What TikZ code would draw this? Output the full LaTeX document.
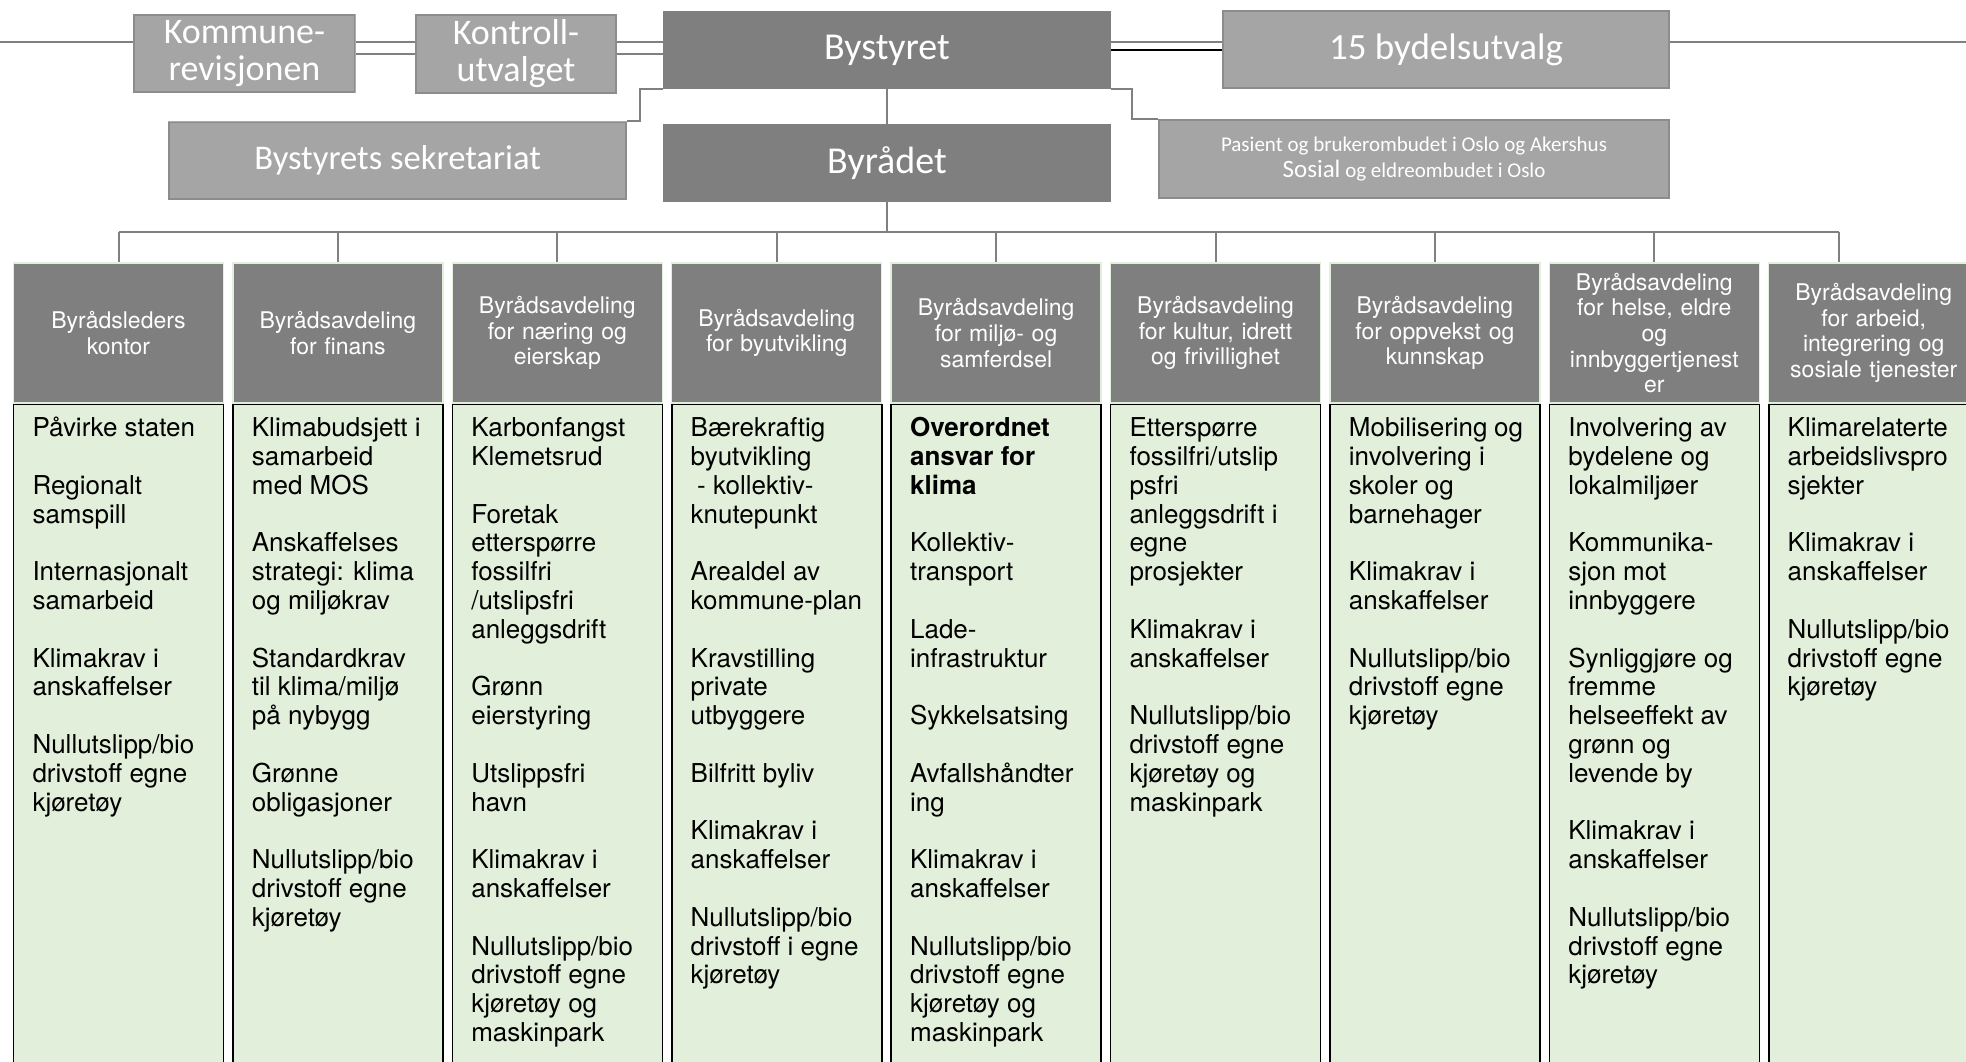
\documentclass[tikz,border=0pt]{standalone}
\usepackage{fontspec}
\setmainfont{TeX Gyre Heros}
\newfontfamily\calib{Carlito}
\usepackage{color}
\usepackage{tikz}
\usetikzlibrary{positioning}

\definecolor{darkbox}{RGB}{127,127,127}
\definecolor{lightbox}{RGB}{165,165,165}
\definecolor{boxline}{RGB}{140,140,140}
\definecolor{linegrey}{RGB}{128,128,128}
\definecolor{taskgreen}{RGB}{226,239,218}
\definecolor{edgeblue}{RGB}{142,180,227}

\newcommand{\tasklist}[1]{\parbox[t][640pt][t]{172pt}{\raggedright\rightskip=0pt plus 1fil minus 8pt\strut#1}}
\newcommand{\itemgap}{\\[28.8pt]}

\begin{document}
\begin{tikzpicture}[x=1pt,y=-1pt,node distance=219.4pt,
    lead/.style={fill=darkbox,text=white,minimum width=448pt,minimum height=78pt,inner sep=0pt,font=\calib\fontsize{38}{40}\selectfont},
    organ/.style={fill=lightbox,draw=boxline,line width=1.2pt,text=white,inner sep=0pt,align=center},
    dept/.style={fill=darkbox,draw=taskgreen,line width=1.5pt,text=white,minimum width=210pt,minimum height=140pt,inner sep=0pt,text width=204pt,align=center,font=\fontsize{23}{25.7}\selectfont},
    tasks/.style={fill=taskgreen,draw=black,line width=1.6pt,minimum width=210pt,inner xsep=19pt,inner ysep=12pt,font=\fontsize{26}{28.8}\selectfont},
    conn/.style={draw=linegrey,line width=2pt}]
    \useasboundingbox (0,0) rectangle (1966,1062);
    \clip (0,0) rectangle (1966,1062);

    \coordinate (top1) at (0,42);
    \coordinate (top2) at (0,54);
    \coordinate (rim) at (1966,42);
    \coordinate (bus) at (0,232);

    \node[organ,minimum width=221pt,minimum height=77pt,font=\calib\fontsize{36}{37}\selectfont] (kommune) at (244.5,53.5) {Kommune-\\revisjonen};
    \node[organ,minimum width=200pt,minimum height=78pt,font=\calib\fontsize{36}{37}\selectfont] (kontroll) at (516,54) {Kontroll-\\utvalget};
    \node[lead] (bystyret) at (887,50) {Bystyret};
    \node[organ,minimum width=446pt,minimum height=77pt,font=\calib\fontsize{37}{40}\selectfont] (bydel) at (1446,49.5) {15 bydelsutvalg};
    \node[lead,node distance=113pt,below of=bystyret] (byraadet) {Byrådet};
    \node[organ,minimum width=457pt,minimum height=77pt,font=\calib\fontsize{34.6}{38}\selectfont] (sekr) at (397.5,160.5) {Bystyrets sekretariat};
    \node[organ,minimum width=510pt,minimum height=78pt,font=\calib\fontsize{21}{26.5}\selectfont] (pasient) at (1414,159) {Pasient og brukerombudet i Oslo og Akershus\\{\fontsize{25}{26.5}\selectfont Sosial} og eldreombudet i Oslo};

    \draw[edgeblue,line width=1pt] (kommune.north east) -- (kommune.south east);
    \draw[edgeblue,line width=1.2pt] (sekr.north west) -- (sekr.north east);

    \draw[conn] (top1) -- (kommune.west |- top1);
    \draw[conn] (kommune.east |- top1) -- (kontroll.west |- top1);
    \draw[conn] (kommune.east |- top2) -- (kontroll.west |- top2);
    \draw[conn] (kontroll.east |- top1) -- (bystyret.west |- top1);
    \draw[conn] (kontroll.east |- top2) -- (bystyret.west |- top2);
    \draw[conn] (bystyret.east |- top1) -- (bydel.west |- top1);
    \draw[line width=2.8pt] (bystyret.east) -- (bydel.west |- bystyret.east);
    \draw[conn] (bydel.east |- top1) -- (rim);
    \draw[conn] (bystyret.south west) -- ++(-23,0) |- (sekr.north east);
    \draw[conn] (bystyret.south east) -- ++(21,0) |- (pasient.north west);
    \draw[conn] (bystyret) -- (byraadet);
    \draw[conn] (byraadet.south) -- (byraadet.south |- bus);

    \node[dept] (h1) at (118.5,333) {Byrådsleders\\kontor};
    \node[dept,right of=h1] (h2) {Byrådsavdeling\\for finans};
    \node[dept,right of=h2] (h3) {Byrådsavdeling\\for næring og\\eierskap};
    \node[dept,right of=h3] (h4) {Byrådsavdeling\\for byutvikling};
    \node[dept,right of=h4] (h5) {Byrådsavdeling\\for miljø- og\\samferdsel};
    \node[dept,right of=h5] (h6) {Byrådsavdeling\\for kultur, idrett\\og frivillighet};
    \node[dept,right of=h6] (h7) {Byrådsavdeling\\for oppvekst og\\kunnskap};
    \node[dept,right of=h7] (h8) {Byrådsavdeling\\for helse, eldre\\og\\innbyggertjenest\\er};
    \node[dept,right of=h8] (h9) {Byrådsavdeling\\for arbeid,\\integrering og\\sosiale tjenester};

    \coordinate (d9) at ([xshift=-35pt]h9.north);
    \draw[conn] (h1.north |- bus) -- (d9 |- bus);
    \foreach \i in {1,...,8}
        \draw[conn] (h\i.north |- bus) -- (h\i.north);
    \draw[conn] (d9 |- bus) -- (d9);

    \node[tasks,below=0pt of h1] (t1) {\tasklist{Påvirke staten\itemgap
        Regionalt\\samspill\itemgap
        Internasjonalt\\samarbeid\itemgap
        Klimakrav i\\anskaffelser\itemgap
        Nullutslipp/bio\\drivstoff egne\\kjøretøy}};
    \node[tasks,below=0pt of h2] (t2) {\tasklist{Klimabudsjett i\\samarbeid\\med MOS\itemgap
        Anskaffelses\\strategi: klima\\og miljøkrav\itemgap
        Standardkrav\\til klima/miljø\\på nybygg\itemgap
        Grønne\\obligasjoner\itemgap
        Nullutslipp/bio\\drivstoff egne\\kjøretøy}};
    \node[tasks,below=0pt of h3] (t3) {\tasklist{Karbonfangst\\Klemetsrud\itemgap
        Foretak\\etterspørre\\fossilfri\\/utslipsfri\\anleggsdrift\itemgap
        Grønn\\eierstyring\itemgap
        Utslippsfri\\havn\itemgap
        Klimakrav i\\anskaffelser\itemgap
        Nullutslipp/bio\\drivstoff egne\\kjøretøy og\\maskinpark}};
    \node[tasks,below=0pt of h4] (t4) {\tasklist{Bærekraftig\\byutvikling\\\hspace*{0.25em}- kollektiv-\\knutepunkt\itemgap
        Arealdel av\\kommune-plan\itemgap
        Kravstilling\\private\\utbyggere\itemgap
        Bilfritt byliv\itemgap
        Klimakrav i\\anskaffelser\itemgap
        Nullutslipp/bio\\drivstoff i egne\\kjøretøy}};
    \node[tasks,below=0pt of h5] (t5) {\tasklist{{\bfseries Overordnet\\ansvar for\\klima}\itemgap
        Kollektiv-\\transport\itemgap
        Lade-\\infrastruktur\itemgap
        Sykkelsatsing\itemgap
        Avfallshåndter\\ing\itemgap
        Klimakrav i\\anskaffelser\itemgap
        Nullutslipp/bio\\drivstoff egne\\kjøretøy og\\maskinpark}};
    \node[tasks,below=0pt of h6] (t6) {\tasklist{Etterspørre\\fossilfri/utslip\\psfri\\anleggsdrift i\\egne\\prosjekter\itemgap
        Klimakrav i\\anskaffelser\itemgap
        Nullutslipp/bio\\drivstoff egne\\kjøretøy og\\maskinpark}};
    \node[tasks,below=0pt of h7] (t7) {\tasklist{Mobilisering og\\involvering i\\skoler og\\barnehager\itemgap
        Klimakrav i\\anskaffelser\itemgap
        Nullutslipp/bio\\drivstoff egne\\kjøretøy}};
    \node[tasks,below=0pt of h8] (t8) {\tasklist{Involvering av\\bydelene og\\lokalmiljøer\itemgap
        Kommunika-\\sjon mot\\innbyggere\itemgap
        Synliggjøre og\\fremme\\helseeffekt av\\grønn og\\levende by\itemgap
        Klimakrav i\\anskaffelser\itemgap
        Nullutslipp/bio\\drivstoff egne\\kjøretøy}};
    \node[tasks,below=0pt of h9] (t9) {\tasklist{Klimarelaterte\\arbeidslivspro\\sjekter\itemgap
        Klimakrav i\\anskaffelser\itemgap
        Nullutslipp/bio\\drivstoff egne\\kjøretøy}};
\end{tikzpicture}
\end{document}
